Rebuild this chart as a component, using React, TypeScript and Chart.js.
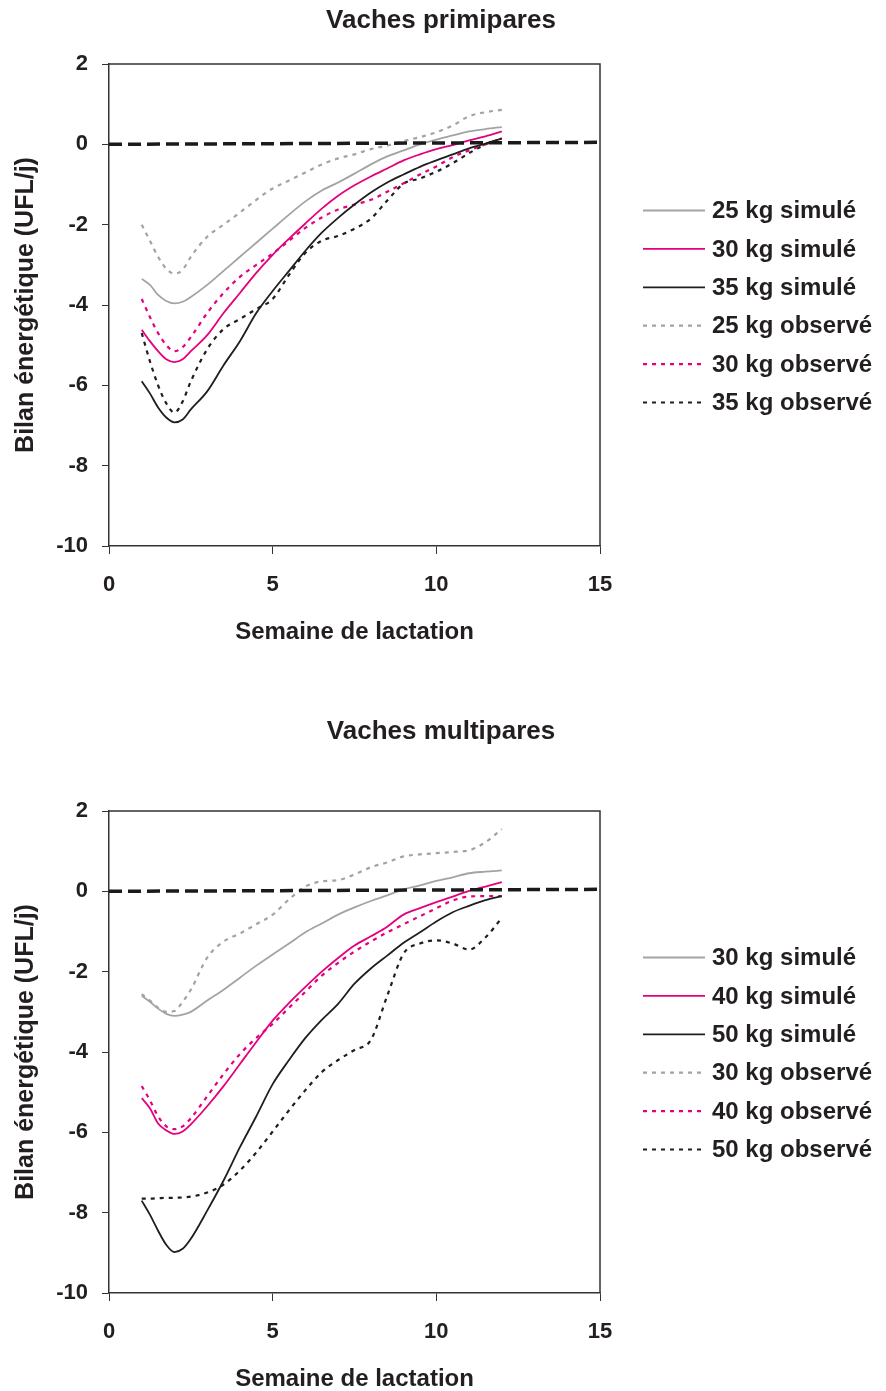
import React, { useEffect, useRef } from "react";
import { Chart, registerables } from "chart.js";

Chart.register(...registerables);

// ---------- data ----------
const WEEKS = [1, 1.25, 1.5, 1.75, 2, 2.25, 2.5, 3, 3.5, 4, 4.5, 5, 5.5, 6, 6.5, 7, 7.5, 8, 8.5, 9, 9.5, 10, 10.5, 11, 11.5, 12];

const X_RANGE = [0, 15];
const X_STEP = 5;
const Y_RANGE = [-10, 2];
const Y_STEP = 2;
const ZERO_LINE = [0, 0.05];

const TITLE_TOP = "Vaches primipares";
const TITLE_BOTTOM = "Vaches multipares";
const X_TITLE = "Semaine de lactation";
const Y_TITLE = "Bilan énergétique (UFL/j)";

const LABELS_TOP = ["25 kg simulé", "30 kg simulé", "35 kg simulé", "25 kg observé", "30 kg observé", "35 kg observé"];
const LABELS_BOTTOM = ["30 kg simulé", "40 kg simulé", "50 kg simulé", "30 kg observé", "40 kg observé", "50 kg observé"];

// Primipares
const P25_SIM = [-3.35, -3.5, -3.75, -3.9, -3.96, -3.92, -3.8, -3.5, -3.15, -2.8, -2.45, -2.1, -1.75, -1.42, -1.15, -0.95, -0.73, -0.5, -0.3, -0.15, 0.0, 0.12, 0.22, 0.32, 0.38, 0.43];
const P30_SIM = [-4.62, -4.9, -5.15, -5.35, -5.42, -5.35, -5.15, -4.75, -4.2, -3.7, -3.2, -2.75, -2.35, -1.97, -1.6, -1.28, -1.02, -0.8, -0.6, -0.4, -0.25, -0.12, -0.02, 0.1, 0.2, 0.32];
const P35_SIM = [-5.9, -6.2, -6.55, -6.8, -6.92, -6.85, -6.6, -6.15, -5.5, -4.9, -4.2, -3.65, -3.15, -2.65, -2.2, -1.83, -1.5, -1.2, -0.95, -0.75, -0.56, -0.4, -0.25, -0.1, 0.02, 0.14];
const P25_OBS = [-2.0, -2.4, -2.8, -3.1, -3.22, -3.12, -2.8, -2.3, -2.0, -1.7, -1.38, -1.1, -0.9, -0.7, -0.5, -0.35, -0.25, -0.12, -0.03, 0.08, 0.18, 0.3, 0.47, 0.7, 0.8, 0.86];
const P30_OBS = [-3.85, -4.3, -4.7, -5.0, -5.15, -5.05, -4.8, -4.2, -3.7, -3.3, -3.0, -2.72, -2.4, -2.08, -1.82, -1.62, -1.5, -1.38, -1.18, -0.97, -0.75, -0.55, -0.32, -0.15, 0.0, 0.15];
const P35_OBS = [-4.7, -5.4, -6.0, -6.45, -6.68, -6.4, -5.9, -5.1, -4.6, -4.35, -4.1, -3.85, -3.25, -2.7, -2.4, -2.28, -2.1, -1.85, -1.4, -0.98, -0.85, -0.68, -0.47, -0.22, 0.0, 0.14];

// Multipares
const M30_SIM = [-2.6, -2.75, -2.92, -3.05, -3.1, -3.07, -3.0, -2.72, -2.45, -2.15, -1.85, -1.57, -1.3, -1.02, -0.8, -0.58, -0.4, -0.24, -0.1, 0.05, 0.15, 0.26, 0.35, 0.45, 0.49, 0.52];
const M40_SIM = [-5.15, -5.4, -5.78, -5.95, -6.04, -5.98, -5.8, -5.35, -4.85, -4.3, -3.75, -3.22, -2.78, -2.38, -2.0, -1.66, -1.35, -1.12, -0.88, -0.58, -0.42, -0.27, -0.13, 0.01, 0.12, 0.23];
const M50_SIM = [-7.7, -8.05, -8.45, -8.8, -8.98, -8.9, -8.65, -7.95, -7.2, -6.37, -5.6, -4.8, -4.2, -3.65, -3.2, -2.8, -2.3, -1.92, -1.6, -1.28, -1.02, -0.75, -0.52, -0.36, -0.22, -0.12];
const M30_OBS = [-2.56, -2.72, -2.9, -3.0, -2.98, -2.75, -2.45, -1.65, -1.25, -1.05, -0.82, -0.58, -0.2, 0.12, 0.25, 0.28, 0.42, 0.6, 0.72, 0.87, 0.92, 0.95, 0.98, 1.02, 1.22, 1.55];
const M40_OBS = [-4.85, -5.2, -5.6, -5.85, -5.92, -5.85, -5.65, -5.1, -4.55, -4.05, -3.65, -3.3, -2.9, -2.5, -2.1, -1.78, -1.5, -1.25, -1.02, -0.82, -0.62, -0.42, -0.23, -0.13, -0.12, -0.12];
const M50_OBS = [-7.65, -7.65, -7.64, -7.63, -7.63, -7.62, -7.6, -7.5, -7.3, -6.95, -6.5, -5.98, -5.45, -4.95, -4.5, -4.2, -3.95, -3.7, -2.6, -1.55, -1.3, -1.22, -1.3, -1.45, -1.15, -0.66];

// ---------- styles ----------
const GRAY = "#a3a3a3";
const MAGENTA = "#e5007e";
const BLACK = "#1e1e1e";
const TEXT = "#231f20";
const AXIS = "#333333";
const FONT = '"Liberation Sans", Arial, Helvetica, sans-serif';

const SERIES_COLORS = [GRAY, MAGENTA, BLACK, GRAY, MAGENTA, BLACK];

function buildDatasets(labels: string[], series: number[][]) {
  const ds: any[] = series.map((vals, i) => {
    const observed = i >= 3;
    return {
      label: labels[i],
      data: WEEKS.map((w, k) => ({ x: w, y: vals[k] })),
      borderColor: SERIES_COLORS[i],
      backgroundColor: SERIES_COLORS[i],
      borderWidth: observed ? 2.2 : 1.8,
      borderDash: observed ? [4, 5] : [],
      pointRadius: 0,
      cubicInterpolationMode: "monotone",
      fill: false,
      order: 1,
    };
  });
  ds.push({
    label: "",
    data: [
      { x: X_RANGE[0], y: ZERO_LINE[0] },
      { x: X_RANGE[1], y: ZERO_LINE[1] },
    ],
    borderColor: "#1a1a1a",
    borderWidth: 3.5,
    borderDash: [13, 6],
    pointRadius: 0,
    fill: false,
    order: 0,
  });
  return ds;
}

type PanelProps = {
  title: string;
  labels: string[];
  series: number[][];
  height: number;
  padTop: number;
  padBottom: number;
  titleY: number;
};

function Panel({ title, labels, series, height, padTop, padBottom, titleY }: PanelProps) {
  const ref = useRef<HTMLCanvasElement | null>(null);

  useEffect(() => {
    if (!ref.current) return;
    const decor = {
      id: "decor",
      afterDraw(chart: any) {
        const { ctx, chartArea } = chart;
        ctx.save();
        // frame top & right
        ctx.strokeStyle = AXIS;
        ctx.lineWidth = 1.5;
        ctx.setLineDash([]);
        ctx.beginPath();
        ctx.moveTo(chartArea.left, chartArea.top);
        ctx.lineTo(chartArea.right, chartArea.top);
        ctx.lineTo(chartArea.right, chartArea.bottom);
        ctx.stroke();
        // title
        ctx.fillStyle = TEXT;
        ctx.font = `bold 26px ${FONT}`;
        ctx.textAlign = "center";
        ctx.textBaseline = "middle";
        ctx.fillText(title, chart.width / 2 - 2, titleY);
        // legend
        const items = chart.data.datasets.filter((d: any) => d.label);
        const n = items.length;
        const x0 = chartArea.right + 43;
        const lineLen = 62;
        const spacing = 38.4;
        const cy = (chartArea.top + chartArea.bottom) / 2 + 1.5;
        items.forEach((d: any, i: number) => {
          const y = cy + (i - (n - 1) / 2) * spacing;
          ctx.strokeStyle = d.borderColor;
          ctx.lineWidth = d.borderWidth;
          ctx.setLineDash(d.borderDash || []);
          ctx.beginPath();
          ctx.moveTo(x0, y);
          ctx.lineTo(x0 + lineLen, y);
          ctx.stroke();
          ctx.setLineDash([]);
          ctx.fillStyle = TEXT;
          ctx.font = `bold 24px ${FONT}`;
          ctx.textAlign = "left";
          ctx.textBaseline = "middle";
          ctx.fillText(d.label, x0 + lineLen + 7, y + 1);
        });
        ctx.restore();
      },
    };

    const chart = new Chart(ref.current, {
      type: "line",
      data: { datasets: buildDatasets(labels, series) },
      options: {
        responsive: false,
        animation: false,
        events: [],
        layout: { padding: { left: 0, right: 286, top: padTop, bottom: padBottom } },
        plugins: { legend: { display: false }, tooltip: { enabled: false }, title: { display: false } },
        scales: {
          x: {
            type: "linear",
            min: X_RANGE[0],
            max: X_RANGE[1],
            afterFit: (s: any) => {
              s.height = 98;
            },
            ticks: {
              stepSize: X_STEP,
              color: TEXT,
              padding: 18,
              font: { family: FONT, size: 22, weight: "bold" },
            },
            grid: { drawOnChartArea: false, drawTicks: true, tickLength: 8, color: AXIS, lineWidth: 1 },
            border: { display: true, color: AXIS, width: 1.5 },
            title: {
              display: true,
              text: X_TITLE,
              color: TEXT,
              padding: 0,
              font: { family: FONT, size: 24, weight: "bold", lineHeight: 1 },
            },
          },
          y: {
            type: "linear",
            min: Y_RANGE[0],
            max: Y_RANGE[1],
            afterFit: (s: any) => {
              s.width = 109;
            },
            ticks: {
              stepSize: Y_STEP,
              color: TEXT,
              padding: 14,
              font: { family: FONT, size: 22, weight: "bold" },
            },
            grid: { drawOnChartArea: false, drawTicks: true, tickLength: 7, color: AXIS, lineWidth: 1 },
            border: { display: true, color: AXIS, width: 1.5 },
            title: {
              display: true,
              text: Y_TITLE,
              color: TEXT,
              padding: { top: 14, bottom: 0 },
              font: { family: FONT, size: 25, weight: "bold", lineHeight: 1 },
            },
          },
        },
      } as any,
      plugins: [decor],
    });
    return () => chart.destroy();
  }, []);

  return <canvas ref={ref} width={886} height={height} style={{ display: "block", width: 886, height }} />;
}

export default function App() {
  return (
    <div style={{ position: "absolute", left: 0, top: 0, width: 886, background: "#fff" }}>
      <Panel
        title={TITLE_TOP}
        labels={LABELS_TOP}
        series={[P25_SIM, P30_SIM, P35_SIM, P25_OBS, P30_OBS, P35_OBS]}
        height={700}
        padTop={64}
        padBottom={56}
        titleY={21}
      />
      <Panel
        title={TITLE_BOTTOM}
        labels={LABELS_BOTTOM}
        series={[M30_SIM, M40_SIM, M50_SIM, M30_OBS, M40_OBS, M50_OBS]}
        height={691}
        padTop={111}
        padBottom={0}
        titleY={32}
      />
    </div>
  );
}
